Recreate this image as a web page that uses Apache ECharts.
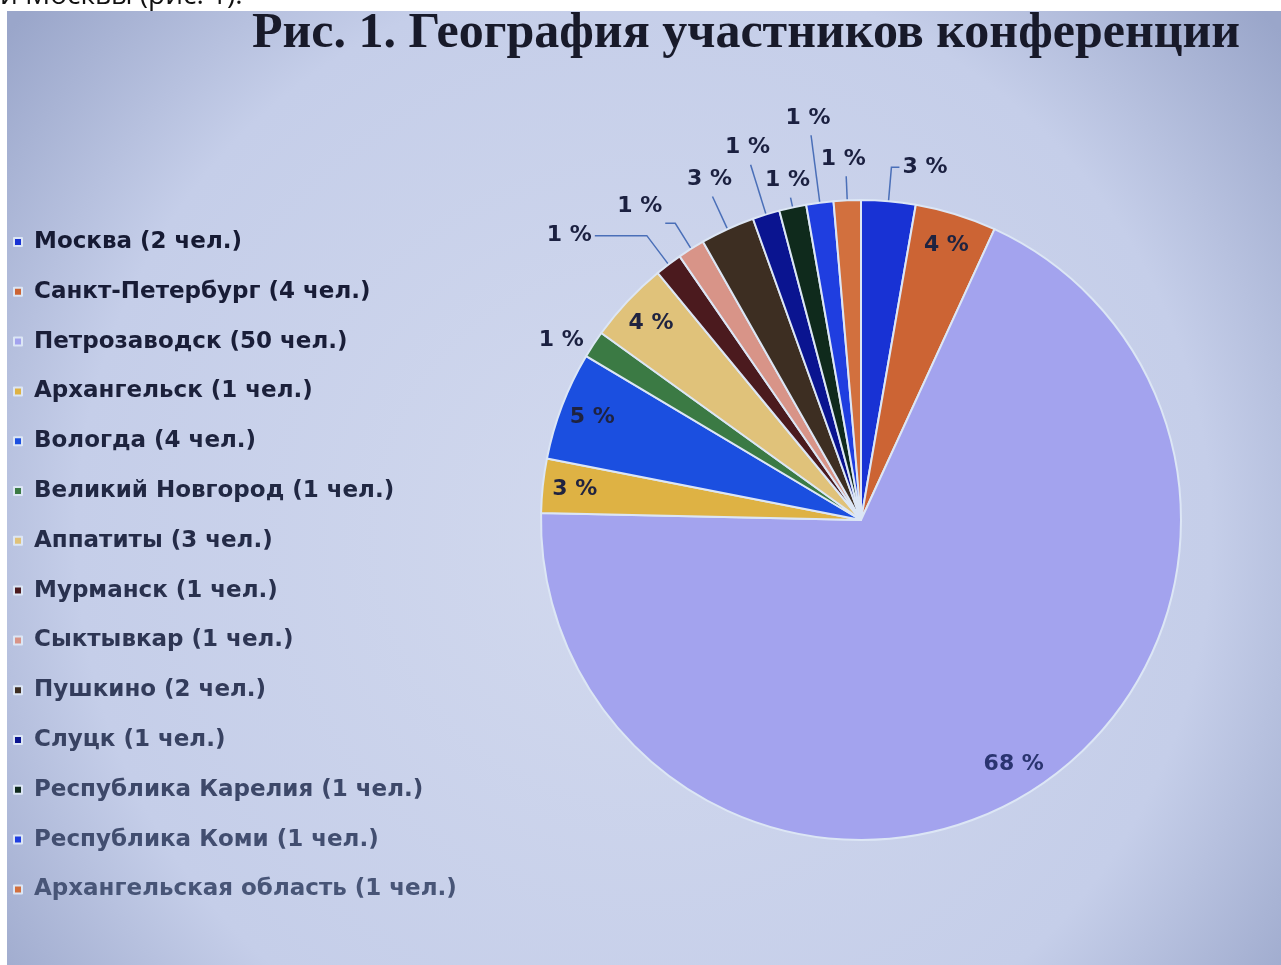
<!DOCTYPE html>
<html>
<head>
<meta charset="utf-8">
<script src="https://cdn.jsdelivr.net/npm/echarts@6/dist/echarts.min.js"></script>
<style>
html,body{margin:0;padding:0;background:#ffffff;}
#chart{width:1281px;height:965px;}
</style>
</head>
<body>
<div id="chart"></div>
<script>
// ---- data ----
const titleText = 'Рис. 1. География участников конференции';
const topLineText = 'и Москвы (рис. 1).';
const categories = [
  'Москва (2 чел.)',
  'Санкт-Петербург (4 чел.)',
  'Петрозаводск (50 чел.)',
  'Архангельск (1 чел.)',
  'Вологда (4 чел.)',
  'Великий Новгород (1 чел.)',
  'Аппатиты (3 чел.)',
  'Мурманск (1 чел.)',
  'Сыктывкар (1 чел.)',
  'Пушкино (2 чел.)',
  'Слуцк (1 чел.)',
  'Республика Карелия (1 чел.)',
  'Республика Коми (1 чел.)',
  'Архангельская область (1 чел.)'
];
const values = [2, 3, 50, 2, 4, 1, 3, 1, 1, 2, 1, 1, 1, 1];

// ---- styles ----
const sliceColors = ['#1832d4', '#cc6434', '#a3a3ee', '#deb244', '#1b4fe0', '#3b7a44', '#e0c27a',
                     '#4b1a1e', '#d89488', '#3d2e22', '#0a1490', '#0f2a1c', '#1f3ee0', '#d2703e'];
const legendTextColors = ['#161a33','#181c36','#1a1e38','#1c213b','#1e243f','#212843','#252c48',
                          '#29314e','#2e3654','#333c5b','#384262','#3d4869','#424e70','#485577'];
const insideLabel = [false, true, true, true, true, false, true, false, false, false, false, false, false, false];
const lineLen  = [34, 0, 0, 0, 0, 8, 0, 36, 30, 36, 52, 10, 68, 24];
const lineLen2 = [8, 0, 0, 0, 0, 0, 0, 52, 10, 0, 0, 0, 0, 0];
const lineShow = [true, false, false, false, false, false, false, true, true, true, true, true, true, true];
const labelAlign  = [null, null, null, null, null, null, null, null, 'right', 'center', 'center', 'center', 'center', 'center'];
const labelVAlign = [null, null, null, null, null, null, null, null, 'bottom', 'bottom', 'bottom', 'bottom', 'bottom', 'bottom'];

const CX = 861, CY = 520, R = 320;
const total = values.reduce((a, b) => a + b, 0);
const pct = p => Math.round(p.value / total * 100) + ' %';

const labelFont = {fontFamily: 'DejaVu Sans', fontWeight: 'bold', fontSize: 22, color: '#1b2040'};

const mainData = values.map((v, i) => ({
  name: categories[i],
  value: v,
  itemStyle: {color: sliceColors[i]},
  label: {show: !insideLabel[i]},
  labelLine: {show: lineShow[i], length: lineLen[i], length2: lineLen2[i]}
}));
const overlayData = values.map((v, i) => ({
  name: categories[i],
  value: v,
  label: {show: insideLabel[i], color: i === 2 ? '#2a3470' : '#1f2340'}
}));

const chart = echarts.init(document.getElementById('chart'), null, {renderer: 'canvas'});
chart.setOption({
  animation: false,
  backgroundColor: '#ffffff',
  graphic: [
    {type: 'text', left: 0, top: -18, z: 0,
     style: {text: topLineText, font: '28px "Open Sans"', fill: '#111'}},
    {type: 'rect', left: 7, top: 11, z: 1, silent: true,
     shape: {width: 1274, height: 954},
     style: {fill: {type: 'radial', x: 0.5, y: 0.55, r: 0.85,
       colorStops: [{offset: 0, color: '#d2d9ee'}, {offset: 0.7, color: '#c5cee9'}, {offset: 1, color: '#9aa6ca'}]}}}
  ],
  title: {
    text: titleText, left: 252, top: 9, padding: 0,
    textStyle: {fontFamily: 'Liberation Serif', fontWeight: 'bold', fontSize: 50, color: '#181a2a'}
  },
  legend: {
    orient: 'vertical', left: 13, top: 229, padding: 0,
    icon: 'rect', itemWidth: 8, itemHeight: 8, itemGap: 23.8,
    selectedMode: false,
    data: categories.map((n, i) => ({name: n, textStyle: {color: legendTextColors[i]}})),
    textStyle: {fontFamily: 'DejaVu Sans', fontWeight: 'bold', fontSize: 23, lineHeight: 26, padding: [0, 0, 0, 7]}
  },
  series: [
    {
      type: 'pie', name: 'main', center: [CX, CY], radius: R,
      startAngle: 90, clockwise: true, avoidLabelOverlap: false, silent: true,
      itemStyle: {borderColor: '#dce6f5', borderWidth: 2},
      label: Object.assign({position: 'outside', formatter: pct, distanceToLabelLine: 3, padding: [0, 0, 6, 0]}, labelFont),
      labelLine: {lineStyle: {color: '#4a6fb8', width: 1.5}},
      labelLayout: function (p) {
        const i = p.dataIndex;
        const o = {};
        if (labelAlign[i]) o.align = labelAlign[i];
        if (labelVAlign[i]) o.verticalAlign = labelVAlign[i];
        return o;
      },
      emphasis: {disabled: true},
      data: mainData
    },
    {
      type: 'pie', name: 'inner', center: [CX, CY], radius: [R * 0.78, R],
      startAngle: 90, clockwise: true, avoidLabelOverlap: false, silent: true,
      itemStyle: {color: 'rgba(0,0,0,0)', borderWidth: 0},
      label: Object.assign({position: 'inside', formatter: pct}, labelFont),
      labelLine: {show: false},
      emphasis: {disabled: true},
      data: overlayData
    }
  ]
});
</script>
</body>
</html>
